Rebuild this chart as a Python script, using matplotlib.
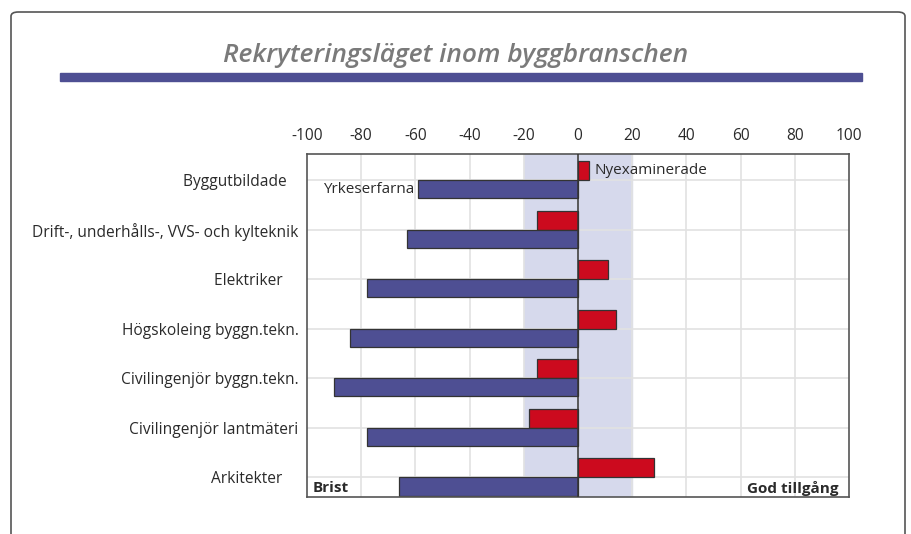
import matplotlib.pyplot as plt
from matplotlib.patches import FancyBboxPatch, Rectangle

plt.rcParams['font.family'] = ['Open Sans', 'DejaVu Sans']

# Data
categories = ['Byggutbildade   ', 'Drift-, underhålls-, VVS- och kylteknik', 'Elektriker    ',
              'Högskoleing byggn.tekn.', 'Civilingenjör byggn.tekn.', 'Civilingenjör lantmäteri',
              'Arkitekter    ']
yrkeserfarna = [-59, -63, -78, -84, -90, -78, -66]
nyexaminerade = [4, -15, 11, 14, -15, -18, 28]
xticks = [-100, -80, -60, -40, -20, 0, 20, 40, 60, 80, 100]

blue = '#4e4f93'
red = '#cc0a1e'
band = '#d6d9ec'
txt = '#2a2a2a'

fig = plt.figure(figsize=(9.11, 5.34), dpi=100)

# outer frame
fig.patches.append(FancyBboxPatch((11 / 911, -0.05), 894 / 911, 1 - 12 / 534 + 0.05,
                                  boxstyle='round,pad=0,rounding_size=0.008',
                                  transform=fig.transFigure, fill=False,
                                  edgecolor='#555555', linewidth=1.2))
# title and underline bar
fig.text(0.5, 1 - 56 / 534, 'Rekryteringsläget inom byggbranschen', ha='center', va='center',
         fontsize=19, style='italic', fontweight='semibold', color='#7a7a7a')
fig.patches.append(Rectangle((60 / 911, 1 - 81 / 534), 802 / 911, 8 / 534,
                             transform=fig.transFigure, color=blue))

ax = fig.add_axes([307 / 911, 1 - 497 / 534, 542 / 911, 343 / 534])
pos = list(range(len(categories)))

ax.axvspan(-20, 20, color=band, zorder=0)
for x in xticks[1:-1]:
    ax.axvline(x, color='#e2e2e2', linewidth=1.2, zorder=0.5)
for p in pos:
    ax.axhline(p, color='#e2e2e2', linewidth=1.2, zorder=0.5)

ax.barh([p - 0.38 for p in pos], nyexaminerade, height=0.38, align='edge',
        color=red, edgecolor='#333333', linewidth=0.9, zorder=2)
ax.barh(pos, yrkeserfarna, height=0.37, align='edge',
        color=blue, edgecolor='#333333', linewidth=0.9, zorder=2)
ax.axvline(0, color='#333333', linewidth=1.1, zorder=3)

ax.set_xlim(-100, 100)
ax.set_ylim(6.4, -0.525)
ax.set_xticks(xticks)
ax.set_xticklabels([str(v) for v in xticks])
ax.xaxis.tick_top()
ax.set_yticks(pos)
ax.set_yticklabels(categories)
ax.tick_params(axis='both', length=0, labelsize=11.2, colors=txt)
ax.tick_params(axis='x', pad=7)
ax.tick_params(axis='y', pad=6)
for s in ax.spines.values():
    s.set_color('#555555')
    s.set_linewidth(1.2)

ax.text(yrkeserfarna[0] - 1.5, 0.19, 'Yrkeserfarna', ha='right', va='center', fontsize=11, color=txt)
ax.text(nyexaminerade[0] + 2, -0.19, 'Nyexaminerade', ha='left', va='center', fontsize=11, color=txt)
ax.text(-98, 6.22, 'Brist', ha='left', va='center', fontsize=11, fontweight='bold', color=txt)
ax.text(96, 6.22, 'God tillgång', ha='right', va='center', fontsize=11, fontweight='bold', color=txt)

fig.savefig('out.png', dpi=100)
